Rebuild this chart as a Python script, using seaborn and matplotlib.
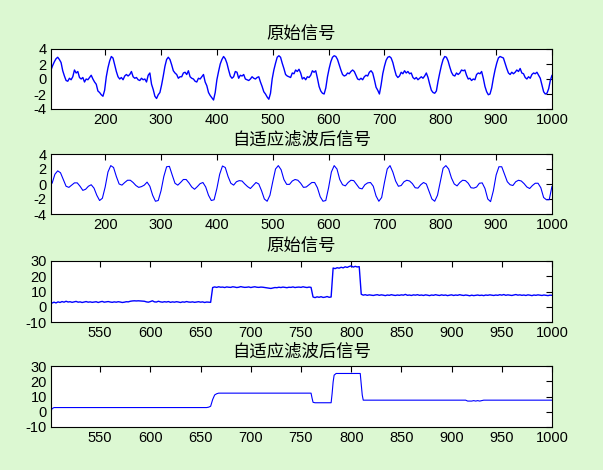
import numpy as np
import pandas as pd
import matplotlib
matplotlib.use("Agg")
import matplotlib.pyplot as plt
import seaborn as sns

# ---------------- data ----------------
titles = ["原始信号", "自适应滤波后信号", "原始信号", "自适应滤波后信号"]

# panel 1: raw periodic signal, t = 103, 106, ..., 1000
raw1_start, raw1_step = 103, 3
raw1_vals = [
    1.2, 1.8, 2.3, 2.7, 2.9, 2.6, 2.2, 1.1, 0.4, -0.2,
    -0.3, 0.1, -0.1, 0.3, 1.2, 0.8, 1.0, 0.2, 0.0, 0.2,
    -0.4, 0.0, -0.1, 0.2, 0.5, 0.0, -0.4, -0.7, -1.6, -1.8,
    -2.1, -2.3, -1.5, 0.3, 1.5, 2.4, 3.0, 2.8, 1.9, 1.0,
    0.3, 0.0, 0.2, -0.1, 0.4, 0.6, 0.4, 0.6, 1.0, 0.3,
    0.1, 0.2, -0.1, -0.2, 0.1, -0.1, 0.0, -0.4, 0.5, 0.8,
    -0.7, -1.4, -2.3, -2.6, -2.1, -1.8, -0.8, 0.4, 1.7, 2.6,
    2.9, 2.6, 1.9, 1.1, 0.8, 0.6, 0.1, 0.3, 0.3, 0.8,
    0.9, 0.6, 1.1, 0.3, 0.1, 0.0, -0.3, -0.4, 0.1, 0.0,
    0.3, 0.6, -0.4, -0.9, -1.8, -2.2, -2.5, -2.8, -1.8, -0.1,
    1.0, 2.0, 2.6, 3.0, 2.7, 2.1, 1.2, 0.4, 0.1, 0.3,
    1.0, 0.9, 0.1, 0.5, 0.4, 0.6, 0.0, -0.1, -0.2, 0.0,
    0.3, 0.1, 0.0, 0.2, 0.3, -0.4, -1.0, -1.7, -2.0, -2.4,
    -2.7, -1.9, 0.0, 1.2, 2.1, 2.9, 3.1, 2.9, 2.1, 1.4,
    0.6, 0.4, 0.3, 0.2, 0.8, 0.7, 1.2, 1.0, 1.3, 0.8,
    0.0, 0.2, -0.1, 0.3, 0.2, 0.5, 1.1, 0.9, 1.1, 0.1,
    -1.0, -1.6, -1.9, -2.0, -1.2, 0.3, 1.4, 2.3, 2.9, 3.1,
    3.0, 2.6, 1.9, 1.2, 0.6, 0.4, 0.5, 0.8, 0.7, 1.0,
    1.2, 1.0, 0.5, 0.0, -0.1, 0.1, -0.1, 0.3, 0.5, 0.4,
    0.9, 1.1, 0.8, -0.1, -1.1, -1.5, -2.0, -0.8, 0.7, 1.7,
    2.5, 2.9, 3.0, 2.8, 2.2, 1.3, 0.5, 0.2, 0.4, 0.9,
    0.7, 1.1, 0.8, 1.0, 0.7, 0.8, 0.2, 0.0, 0.2, -0.1,
    0.1, 0.3, 0.1, 0.4, 0.8, 0.2, -0.7, -1.5, -1.8, -1.9,
    -1.6, -0.3, 0.8, 1.8, 2.6, 3.0, 2.9, 2.4, 1.6, 0.9,
    0.5, 0.4, 0.8, 0.6, 0.8, 1.2, 1.1, 1.2, 0.5, 0.0,
    0.1, -0.2, 0.0, -0.1, 0.6, 0.8, 0.7, 1.0, 0.1, -1.0,
    -1.7, -2.1, -2.0, -1.2, 0.1, 1.2, 2.1, 2.8, 3.0, 2.9,
    2.8, 2.1, 1.4, 0.8, 0.6, 0.9, 0.7, 0.9, 1.2, 1.0,
    1.4, 0.8, 0.7, 0.2, 0.0, 0.3, 0.1, 0.6, 0.8, 0.7,
    0.9, 0.5, 0.1, -0.8, -1.7, -2.0, -1.9, -1.3, -0.2, 0.5,
]

# panel 2: filtered periodic signal, t = 105, 110, ..., 1000
flt1_start, flt1_step = 105, 5
flt1_vals = [
    0.1, 1.3, 1.75, 1.5, 0.6, -0.3, -0.45, -0.15, 0.15, 0.15,
    -0.3, -0.85, -0.7, -0.3, -0.1, -0.55, -1.5, -2.2, -1.9, -0.4,
    1.6, 2.45, 2.2, 1.0, 0.0, -0.15, 0.2, 0.5, 0.5, 0.2,
    -0.2, -0.45, -0.35, -0.15, 0.25, -0.3, -1.5, -2.3, -2.2, -0.9,
    1.0, 2.3, 2.35, 1.2, 0.1, -0.15, 0.2, 0.6, 0.6, 0.15,
    -0.4, -0.7, -0.35, 0.05, 0.2, -0.4, -1.5, -2.2, -2.1, -0.6,
    1.3, 2.4, 2.2, 1.0, 0.1, -0.15, 0.3, 0.45, 0.4, 0.0,
    -0.35, -0.6, -0.2, 0.2, 0.0, -0.9, -2.0, -2.3, -1.5, 0.3,
    2.0, 2.45, 1.9, 0.6, -0.05, -0.05, 0.4, 0.6, 0.5, 0.1,
    -0.45, -0.4, -0.1, 0.2, 0.2, -0.5, -1.7, -2.3, -2.2, -0.5,
    1.6, 2.45, 2.0, 0.6, -0.1, -0.25, 0.2, 0.5, 0.45, -0.05,
    -0.55, -0.65, -0.1, 0.15, 0.2, -0.3, -1.6, -2.3, -1.8, 0.2,
    2.0, 2.45, 1.6, 0.4, -0.3, -0.2, 0.3, 0.5, 0.4, 0.05,
    -0.5, -0.55, -0.1, 0.2, 0.0, -1.0, -2.0, -2.3, -1.5, 0.3,
    2.1, 2.45, 2.0, 0.8, 0.0, -0.25, 0.2, 0.5, 0.45, 0.1,
    -0.5, -0.55, -0.4, 0.1, 0.15, -0.6, -2.0, -2.35, -0.9, 1.2,
    2.3, 2.3, 1.3, 0.3, -0.1, -0.2, 0.3, 0.5, 0.4, 0.05,
    -0.4, -0.6, -0.2, 0.1, 0.1, -0.5, -1.8, -2.1, -2.1, -0.3,
]

# panel 3: raw step signal, t = 500, 502, ..., 1000
raw2_start, raw2_step = 500, 2
raw2_vals = [
    2.6, 2.4, 3.0, 2.5, 3.2, 2.8, 3.4, 3.0, 3.6, 3.1,
    3.3, 2.9, 3.2, 3.5, 3.0, 3.2, 2.8, 3.1, 3.4, 3.0,
    3.2, 2.9, 3.1, 3.3, 2.8, 3.2, 3.5, 3.0, 3.2, 3.4,
    3.1, 2.9, 3.2, 3.0, 3.3, 3.1, 2.8, 3.0, 3.3, 3.2,
    3.6, 3.8, 3.9, 3.8, 3.9, 3.8, 3.7, 3.6, 3.2, 3.0,
    3.4, 3.9, 3.2, 3.1, 3.6, 3.2, 3.0, 3.3, 3.1, 3.4,
    2.9, 3.2, 3.0, 3.3, 3.1, 2.8, 3.2, 3.0, 3.4, 3.1,
    3.0, 3.2, 2.9, 3.1, 3.3, 3.0, 3.2, 2.8, 3.1, 3.0,
    2.9,
    12.6, 13.0, 12.7, 13.1, 12.8, 12.9, 12.6, 13.0, 12.8, 12.7,
    13.1, 12.9, 12.6, 12.8, 13.2, 12.9, 12.7, 12.8, 13.0, 12.6,
    12.9, 13.1, 12.8, 12.7, 12.9, 12.8, 12.6, 12.4, 12.2, 12.0,
    12.3, 12.6, 12.5, 12.8, 12.6, 12.9, 12.7, 12.5, 12.8, 12.7,
    13.0, 12.6, 12.8, 12.9, 12.7, 13.1, 12.8, 12.6, 12.9, 12.7,
    6.4, 6.0, 6.5, 6.2, 6.6, 6.1, 6.3, 6.7, 6.2, 6.4,
    25.4, 25.0, 25.6, 25.3, 25.9, 25.5, 26.2, 25.8, 26.4, 26.8,
    26.0, 26.5, 26.1, 26.3,
    8.2, 7.6, 7.9, 7.5, 7.8, 7.6, 7.4, 7.7, 7.9, 7.5,
    7.8, 7.6, 7.3, 7.7, 7.5, 7.9, 7.6, 7.4, 7.7, 7.5,
    7.8, 7.6, 8.1, 7.5, 7.7, 7.4, 7.8, 7.6, 7.9, 7.5,
    7.7, 7.4, 7.8, 7.6, 7.3, 7.7, 7.5, 7.9, 7.6, 7.4,
    7.8, 7.5, 7.7, 7.3, 7.6, 7.8, 7.4, 7.7, 7.5, 7.9,
    7.6, 7.4, 7.7, 7.5, 7.2, 7.6, 7.3, 7.5, 7.7, 7.4,
    7.6, 7.3, 7.7, 7.5, 7.8, 7.6, 7.4, 7.7, 7.5, 7.9,
    7.6, 8.0, 7.5, 7.8, 7.6, 7.4, 7.7, 8.0, 7.6, 7.8,
    7.5, 7.7, 7.4, 7.8, 7.6, 7.3, 7.7, 7.5, 7.8, 7.6,
    7.4, 7.7, 7.5, 7.3, 7.6, 7.5,
]

# panel 4: filtered step signal (sample index, value)
flt2_t = [501, 502, 504, 656, 658, 660, 662, 664, 666, 668, 760, 761, 762, 764,
          780, 781, 782, 783, 785, 809, 810, 811, 812, 914, 916, 918, 920, 922,
          924, 926, 928, 930, 932, 1000]
flt2_v = [0.0, 2.0, 2.75, 2.75, 3.0, 3.6, 8.0, 11.0, 11.8, 12.2, 12.2, 9.0, 6.2, 5.9,
          5.9, 12.0, 19.5, 24.0, 25.1, 25.1, 18.0, 11.0, 7.6, 7.6, 7.0, 7.0, 7.0, 7.3,
          7.0, 7.3, 7.0, 7.3, 7.6, 7.6]

xticks_top = [200, 300, 400, 500, 600, 700, 800, 900, 1000]
yticks_top = [-4, -2, 0, 2, 4]
xticks_bot = [550, 600, 650, 700, 750, 800, 850, 900, 950, 1000]
yticks_bot = [-10, 0, 10, 20, 30]

# ---------------- figure ----------------
sns.set_style("white")
plt.rcParams["font.family"] = ["Liberation Sans", "Noto Sans CJK SC", "DejaVu Sans"]
plt.rcParams["axes.unicode_minus"] = False

W, H = 603, 470
fig = plt.figure(figsize=(W / 100, H / 100), dpi=100)
fig.patch.set_facecolor("#dcf8d2")

# (left, top, right, bottom) in pixels
boxes = [(51, 49, 552, 109), (51, 154, 552, 214), (51, 261, 552, 322), (51, 366, 552, 427)]

series = [
    (raw1_start + raw1_step * np.arange(len(raw1_vals)), raw1_vals),
    (flt1_start + flt1_step * np.arange(len(flt1_vals)), flt1_vals),
    (raw2_start + raw2_step * np.arange(len(raw2_vals)), raw2_vals),
    (np.array(flt2_t), flt2_v),
]
widths = [1.0, 0.8, 1.0, 0.8]

for i, ((l, t, r, b), (xs, ys)) in enumerate(zip(boxes, series)):
    ax = fig.add_axes([l / W, 1 - b / H, (r - l) / W, (b - t) / H])
    ax.set_facecolor("white")
    df = pd.DataFrame({"t": xs, "v": ys})
    sns.lineplot(data=df, x="t", y="v", ax=ax, color="#0000ff", linewidth=widths[i],
                 estimator=None, sort=False, legend=False)
    if i < 2:
        ax.set_xlim(103, 1000)
        ax.set_ylim(-4, 4)
        ax.set_xticks(xticks_top)
        ax.set_yticks(yticks_top)
    else:
        ax.set_xlim(501, 1000)
        ax.set_ylim(-10, 30)
        ax.set_xticks(xticks_bot)
        ax.set_yticks(yticks_bot)
    ax.set_xlabel("")
    ax.set_ylabel("")
    ax.tick_params(direction="in", length=4, width=0.8, top=True, right=True,
                   labelsize=10.5, pad=3, colors="black")
    for s in ax.spines.values():
        s.set_visible(True)
        s.set_color("black")
        s.set_linewidth(0.8)
    ax.set_title(titles[i], fontsize=12.5, pad=7, color="black")

fig.savefig("out.png", dpi=100, facecolor=fig.get_facecolor())
